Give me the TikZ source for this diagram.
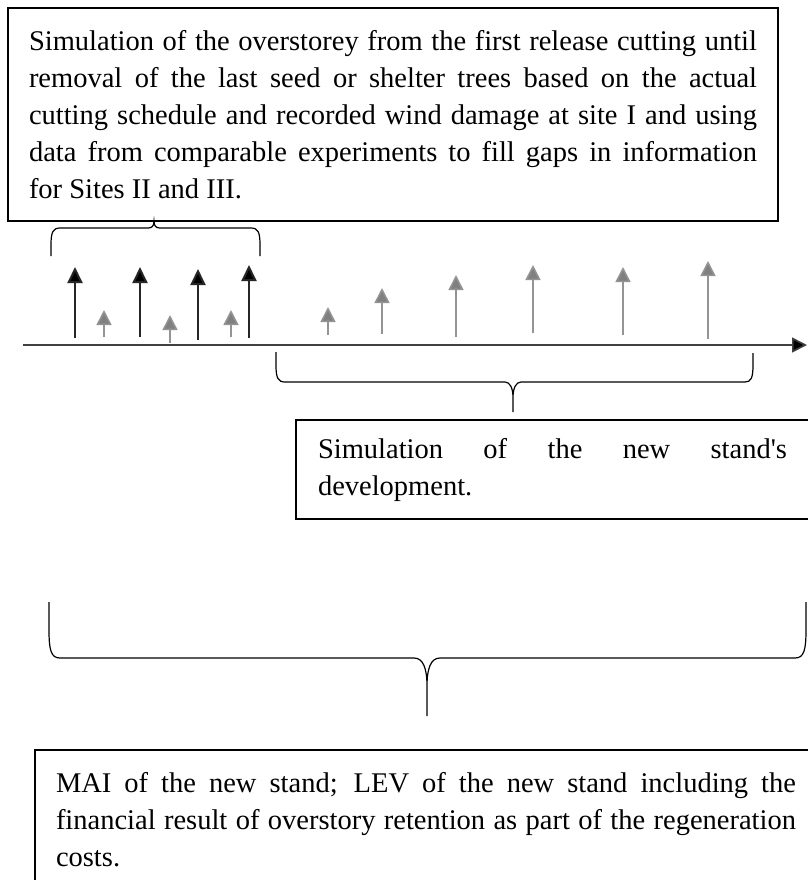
\documentclass[tikz,border=0pt]{standalone}
\usepackage{fontspec}
\setmainfont{Liberation Serif}
\usetikzlibrary{arrows.meta,positioning}
\tolerance=10000
\hyphenpenalty=10000

\begin{document}
\begin{tikzpicture}[x=0.5pt,y=-0.5pt]
	\tikzstyle{Box}		= [draw, line width=1pt, align=justify, anchor=north west, inner xsep=10.5pt, inner ysep=0pt, font=\fontsize{14.25pt}{18.5pt}\selectfont]
	\tikzstyle{Axis}	= [line width=0.8pt, black!75, -{Triangle[length=7.5pt,width=7.5pt,fill=black]}]
	\tikzstyle{Shelter}	= [line width=1pt, black!85, -{Triangle[length=8pt,width=7.5pt,fill=black]}]
	\tikzstyle{Young}	= [line width=0.75pt, black!42, -{Triangle[length=7.5pt,width=7.5pt,fill=black!50]}]
	\tikzstyle{Brace}	= [line width=0.6pt, black]

	\clip (0,0) rectangle (808,880);
	\fill [white] (0,0) rectangle (808,880);

	% text boxes
	\node (over) at (7,7) [Box, text width=364pt, minimum height=106.5pt] {Simulation of the overstorey from the first release cutting until\linebreak removal of the last seed or shelter trees based on the actual\linebreak cutting schedule and recorded wind damage at site I and using\linebreak data from comparable experiments to fill gaps in information\linebreak for Sites II and III.};
	\node (newstand) at (295,419) [Box, text width=234.5pt, inner xsep=11pt, minimum height=49.5pt] {Simulation of the new stand\textquotesingle s\linebreak development.};
	\node (result) at (34,749) [Box, text width=370pt, inner ysep=11pt] {MAI of the new stand; LEV of the new stand including the\linebreak financial result of overstory retention as part of the regeneration\linebreak costs.};

	% time axis
	\coordinate (t0) at (23,345);
	\coordinate (tend) at (807,345);
	\draw [Axis] (t0) -- (tend);

	% overstorey trees
	\draw [Shelter] (75,338) -- (75,267);
	\draw [Shelter] (140,337) -- (140,267);
	\draw [Shelter] (198,340) -- (198,269);
	\draw [Shelter] (249,338) -- (249,265);

	% new stand
	\draw [Young] (104,337) -- (104,310);
	\draw [Young] (170,343) -- (170,315);
	\draw [Young] (231,337) -- (231,310);
	\draw [Young] (328,335) -- (328,307);
	\draw [Young] (382,334) -- (382,288);
	\draw [Young] (456,337) -- (456,275);
	\draw [Young] (533,333) -- (533,265);
	\draw [Young] (623,335) -- (623,267);
	\draw [Young] (708,339) -- (708,261);

	% braces
	\draw [Brace] (51,256) -- (51,245) .. controls (51,232) and (53,228) .. (60,228) -- (148,228) .. controls (152,228) and (154,226) .. (154,221) .. controls (154,226) and (156,228) .. (160,228) -- (251,228) .. controls (258,228) and (260,232) .. (260,245) -- (260,256);
	\draw [Brace] (276,352) -- (276,365) .. controls (276,378) and (278,382) .. (285,382) -- (505,382) .. controls (510,382) and (513,388) .. (513,398) -- (513,412) (513,398) .. controls (513,388) and (516,382) .. (521,382) -- (745,382) .. controls (751,382) and (753,378) .. (753,365) -- (753,353);
	\draw [Brace] (49,602) -- (49,630) .. controls (49,650) and (51,658) .. (60,658) -- (414,658) .. controls (423,658) and (427,668) .. (427,686) -- (427,716) (427,686) .. controls (427,668) and (431,658) .. (440,658) -- (795,658) .. controls (804,658) and (806,650) .. (806,630) -- (806,602);
\end{tikzpicture}
\end{document}
